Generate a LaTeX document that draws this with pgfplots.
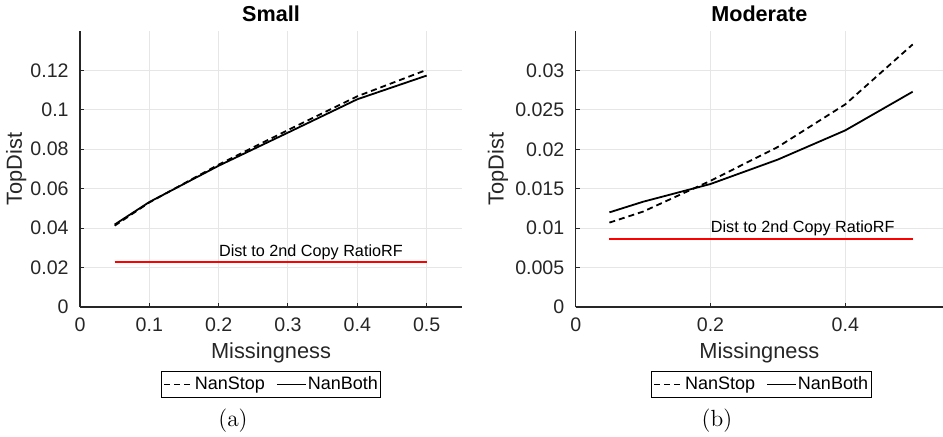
\documentclass[border=0pt]{standalone}
\usepackage{fontspec}
\usepackage{pgfplots}
\pgfplotsset{compat=1.18}
\newfontfamily\hv{Liberation Sans}
\definecolor{axgray}{HTML}{262626}
\definecolor{gridgray}{HTML}{E6E6E6}
\pgfplotsset{
  mystyle/.style={
    scale only axis,
    axis x line*=bottom, axis y line*=left,
    axis line style={axgray, line width=0.6pt},
    tick align=inside, major tick length=2pt,
    every tick/.style={axgray, line width=0.5pt},
    grid=major, grid style={gridgray, line width=0.5pt},
    scaled ticks=false,
    /pgf/number format/assume math mode=true,
    /pgf/number format/.cd, fixed, precision=3, /pgfplots/.cd,
    ticklabel style={font=\fontsize{9.8}{11}\hv, color=axgray},
    xticklabel style={anchor=base, yshift=-12pt},
    yticklabel style={anchor=east, inner sep=0pt, xshift=-5.5pt},
    label style={font=\fontsize{10.9}{12}\hv, color=axgray},
    xmin=0, ymin=0,
    legend columns=2,
    legend style={draw=black, line width=0.5pt, font=\fontsize{9}{10}\hv, inner xsep=1pt, inner ysep=1.5pt,
      /tikz/every even column/.append style={column sep=5pt},
      nodes={inner xsep=0.5pt, inner ysep=1pt}},
    legend image code/.code={\draw[##1] (0pt,0pt) -- (14.5pt,0pt);},
  }
}
\begin{document}
\begin{tikzpicture}
\useasboundingbox (0,0) rectangle (471.5pt,218pt);
% ---------- Small ----------
\begin{axis}[mystyle,
  at={(40pt,64.5pt)}, anchor=south west,
  width=191pt, height=138pt,
  xmax=0.551, ymax=0.1399,
  xtick={0,0.1,0.2,0.3,0.4,0.5},
  ytick={0,0.02,0.04,0.06,0.08,0.1,0.12},
  xlabel={Missingness}, xlabel style={at={(axis description cs:0.5,-0.186)}, anchor=base},
  ylabel={TopDist}, ylabel style={at={(axis description cs:-0.152,0.5)}, anchor=base},
  legend style={at={(axis description cs:0.5,-0.281)}, anchor=center},
  clip=false,
]
\addplot[black, line width=0.9pt, dash pattern=on 3pt off 2pt] coordinates {
 (0.05,0.0412) (0.1,0.0530) (0.2,0.0722) (0.3,0.0897) (0.4,0.1068) (0.5,0.1202)};
\addlegendentry{NanStop}
\addplot[black, line width=0.9pt] coordinates {
 (0.05,0.0418) (0.1,0.0532) (0.2,0.0716) (0.3,0.0884) (0.4,0.1053) (0.5,0.1173)};
\addlegendentry{NanBoth}
\addplot[red, line width=0.9pt, forget plot] coordinates {(0.05,0.0227) (0.5,0.0227)};
\node[anchor=west, inner sep=0pt, font=\fontsize{8.1}{9}\hv] at (axis cs:0.2,0.0277) {Dist to 2nd Copy RatioRF};
\node[anchor=base, inner sep=0pt, font=\fontsize{10.8}{12}\hv\bfseries] at (axis description cs:0.5,1.034) {Small};
\end{axis}
% ---------- Moderate ----------
\begin{axis}[mystyle,
  at={(287.85pt,64.5pt)}, anchor=south west,
  width=183.65pt, height=138pt,
  xmax=0.545, ymax=0.035,
  xtick={0,0.2,0.4},
  ytick={0,0.005,0.01,0.015,0.02,0.025,0.03},
  xlabel={Missingness}, xlabel style={at={(axis description cs:0.5,-0.186)}, anchor=base},
  ylabel={TopDist}, ylabel style={at={(axis description cs:-0.196,0.5)}, anchor=base},
  legend style={at={(axis description cs:0.505,-0.281)}, anchor=center},
  clip=false,
]
\addplot[black, line width=0.9pt, dash pattern=on 3pt off 2pt] coordinates {
 (0.05,0.0107) (0.1,0.0121) (0.2,0.0160) (0.3,0.0203) (0.4,0.0257) (0.5,0.0333)};
\addlegendentry{NanStop}
\addplot[black, line width=0.9pt] coordinates {
 (0.05,0.0120) (0.1,0.01335) (0.2,0.0156) (0.3,0.0187) (0.4,0.0224) (0.5,0.0273)};
\addlegendentry{NanBoth}
\addplot[red, line width=0.9pt, forget plot] coordinates {(0.05,0.00866) (0.5,0.00866)};
\node[anchor=west, inner sep=0pt, font=\fontsize{8.1}{9}\hv] at (axis cs:0.2,0.00992) {Dist to 2nd Copy RatioRF};
\node[anchor=base, inner sep=0pt, font=\fontsize{10.8}{12}\hv\bfseries] at (axis description cs:0.5,1.034) {Moderate};
\end{axis}
\node[font=\fontsize{11.7}{13}\selectfont] at (116.5pt,7.65pt) {(a)};
\node[font=\fontsize{11.7}{13}\selectfont] at (358.5pt,7.65pt) {(b)};
\end{tikzpicture}
\end{document}
